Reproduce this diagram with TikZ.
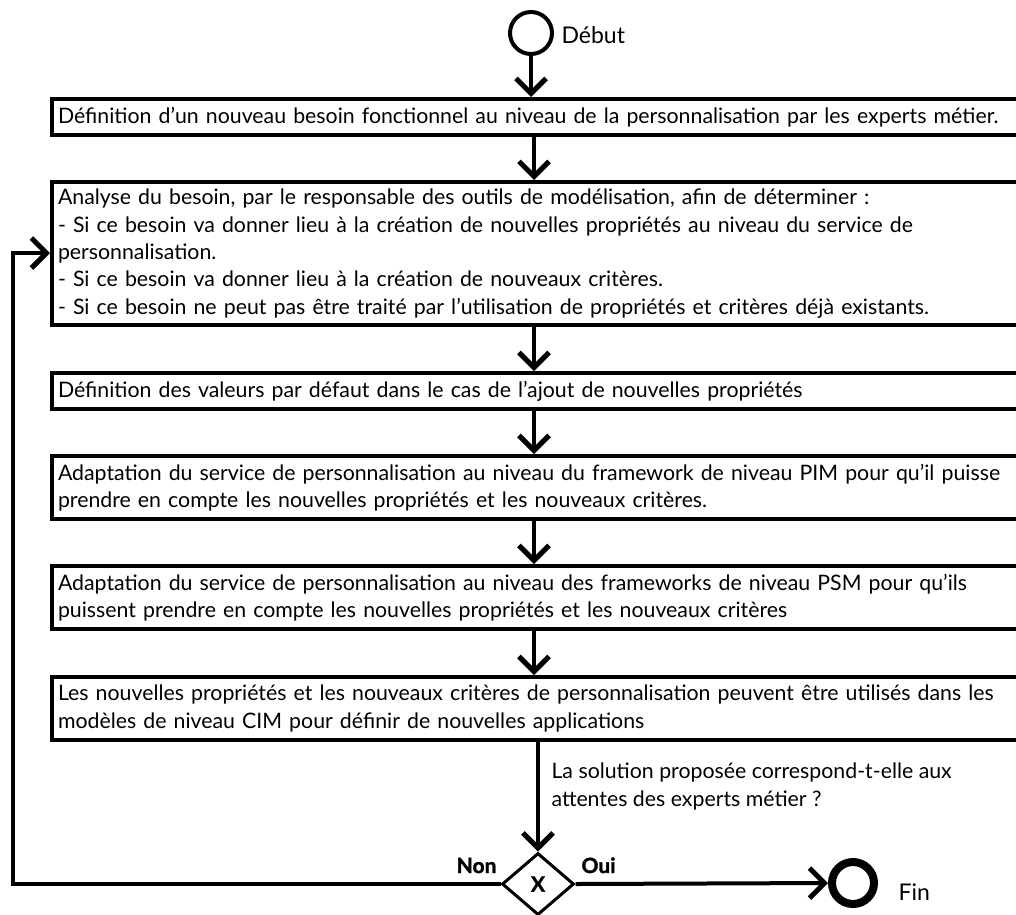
\documentclass[tikz,border=0pt]{standalone}
\usepackage{fontspec}
\setmainfont{Lato}
\newfontfamily\heavyfont{Lato}[BoldFeatures={FakeBold=1.5}]
\usetikzlibrary{arrows.meta,shapes.geometric}
\tikzset{
  box/.style={draw, line width=4pt, anchor=north west, text width=1060pt, align=left,
    inner xsep=6pt, inner ysep=3pt, font=\fontsize{21.3}{27.3}\selectfont},
  arr/.style={line width=4pt, -{Straight Barb[length=15pt,width=30pt,line width=5pt]}},
  lbl/.style={font=\fontsize{21.3}{27.3}\selectfont, align=left},
  bold/.style={font=\heavyfont\bfseries\fontsize{21}{25}\selectfont}
}
\begin{document}
\begin{tikzpicture}[x=1pt,y=-1pt]
\useasboundingbox (0,0) rectangle (1016,914);
\fill[white] (0,0) rectangle (1016,914);

\node[circle, draw, line width=4pt, minimum size=42pt, inner sep=0pt] (start) at (531,33) {};
\node[anchor=base west, font=\fontsize{23}{27}\selectfont] (deb) at (558,43) {Début};

\node[box, minimum height=36pt] (b1) at (50,97)
  {Définition d’un nouveau besoin fonctionnel au niveau de la personnalisation par les experts métier.};
\node[box, minimum height=143pt] (b2) at (50,180)
  {Analyse du besoin, par le responsable des outils de modélisation, afin de déterminer :\\
   - Si ce besoin va donner lieu à la création de nouvelles propriétés au niveau du service de\\
   personnalisation.\\
   - Si ce besoin va donner lieu à la création de nouveaux critères.\\
   - Si ce besoin ne peut pas être traité par l’utilisation de propriétés et critères déjà existants.};
\node[box, minimum height=36pt] (b3) at (50,371)
  {Définition des valeurs par défaut dans le cas de l’ajout de nouvelles propriétés};
\node[box, minimum height=63pt] (b4) at (50,454)
  {Adaptation du service de personnalisation au niveau du framework de niveau PIM pour qu’il puisse\\
   prendre en compte les nouvelles propriétés et les nouveaux critères.};
\node[box, minimum height=63pt] (b5) at (50,564)
  {Adaptation du service de personnalisation au niveau des frameworks de niveau PSM pour qu’ils\\
   puissent prendre en compte les nouvelles propriétés et les nouveaux critères};
\node[box, minimum height=63pt] (b6) at (50,675)
  {Les nouvelles propriétés et les nouveaux critères de personnalisation peuvent être utilisés dans les\\
   modèles de niveau CIM pour définir de nouvelles applications};

\node[diamond, draw, line width=3pt, minimum width=72pt, minimum height=62pt, inner sep=0pt,
  bold] (dia) at (538,884) {X};
\node[circle, draw, line width=8pt, minimum size=42pt, inner sep=0pt] (fin) at (853,883) {};
\node[anchor=base west, font=\fontsize{23}{27}\selectfont] (finl) at (895,900) {Fin};

\node[lbl, anchor=base west] (q) at (548,806)
  {La solution proposée correspond-t-elle aux\\attentes des experts métier ?};
\node[bold, anchor=base east] (non) at (500,873) {Non};
\node[bold, anchor=base west] (oui) at (578,873) {Oui};

\coordinate (ax) at (534,0);
\coordinate (lp) at (13,253);

\draw[arr] (start.south) -- (start.south |- b1.north);
\draw[arr] (b1.south -| ax) -- (b2.north -| ax);
\draw[arr] (b2.south -| ax) -- (b3.north -| ax);
\draw[arr] (b3.south -| ax) -- (b4.north -| ax);
\draw[arr] (b4.south -| ax) -- (b5.north -| ax);
\draw[arr] (b5.south -| ax) -- (b6.north -| ax);
\draw[arr] (b6.south -| dia) -- (dia.north);
\draw[arr] (dia.west) -| (lp) -- (lp -| b2.west);
\draw[arr] (dia.east) -- (fin.west);
\end{tikzpicture}
\end{document}
